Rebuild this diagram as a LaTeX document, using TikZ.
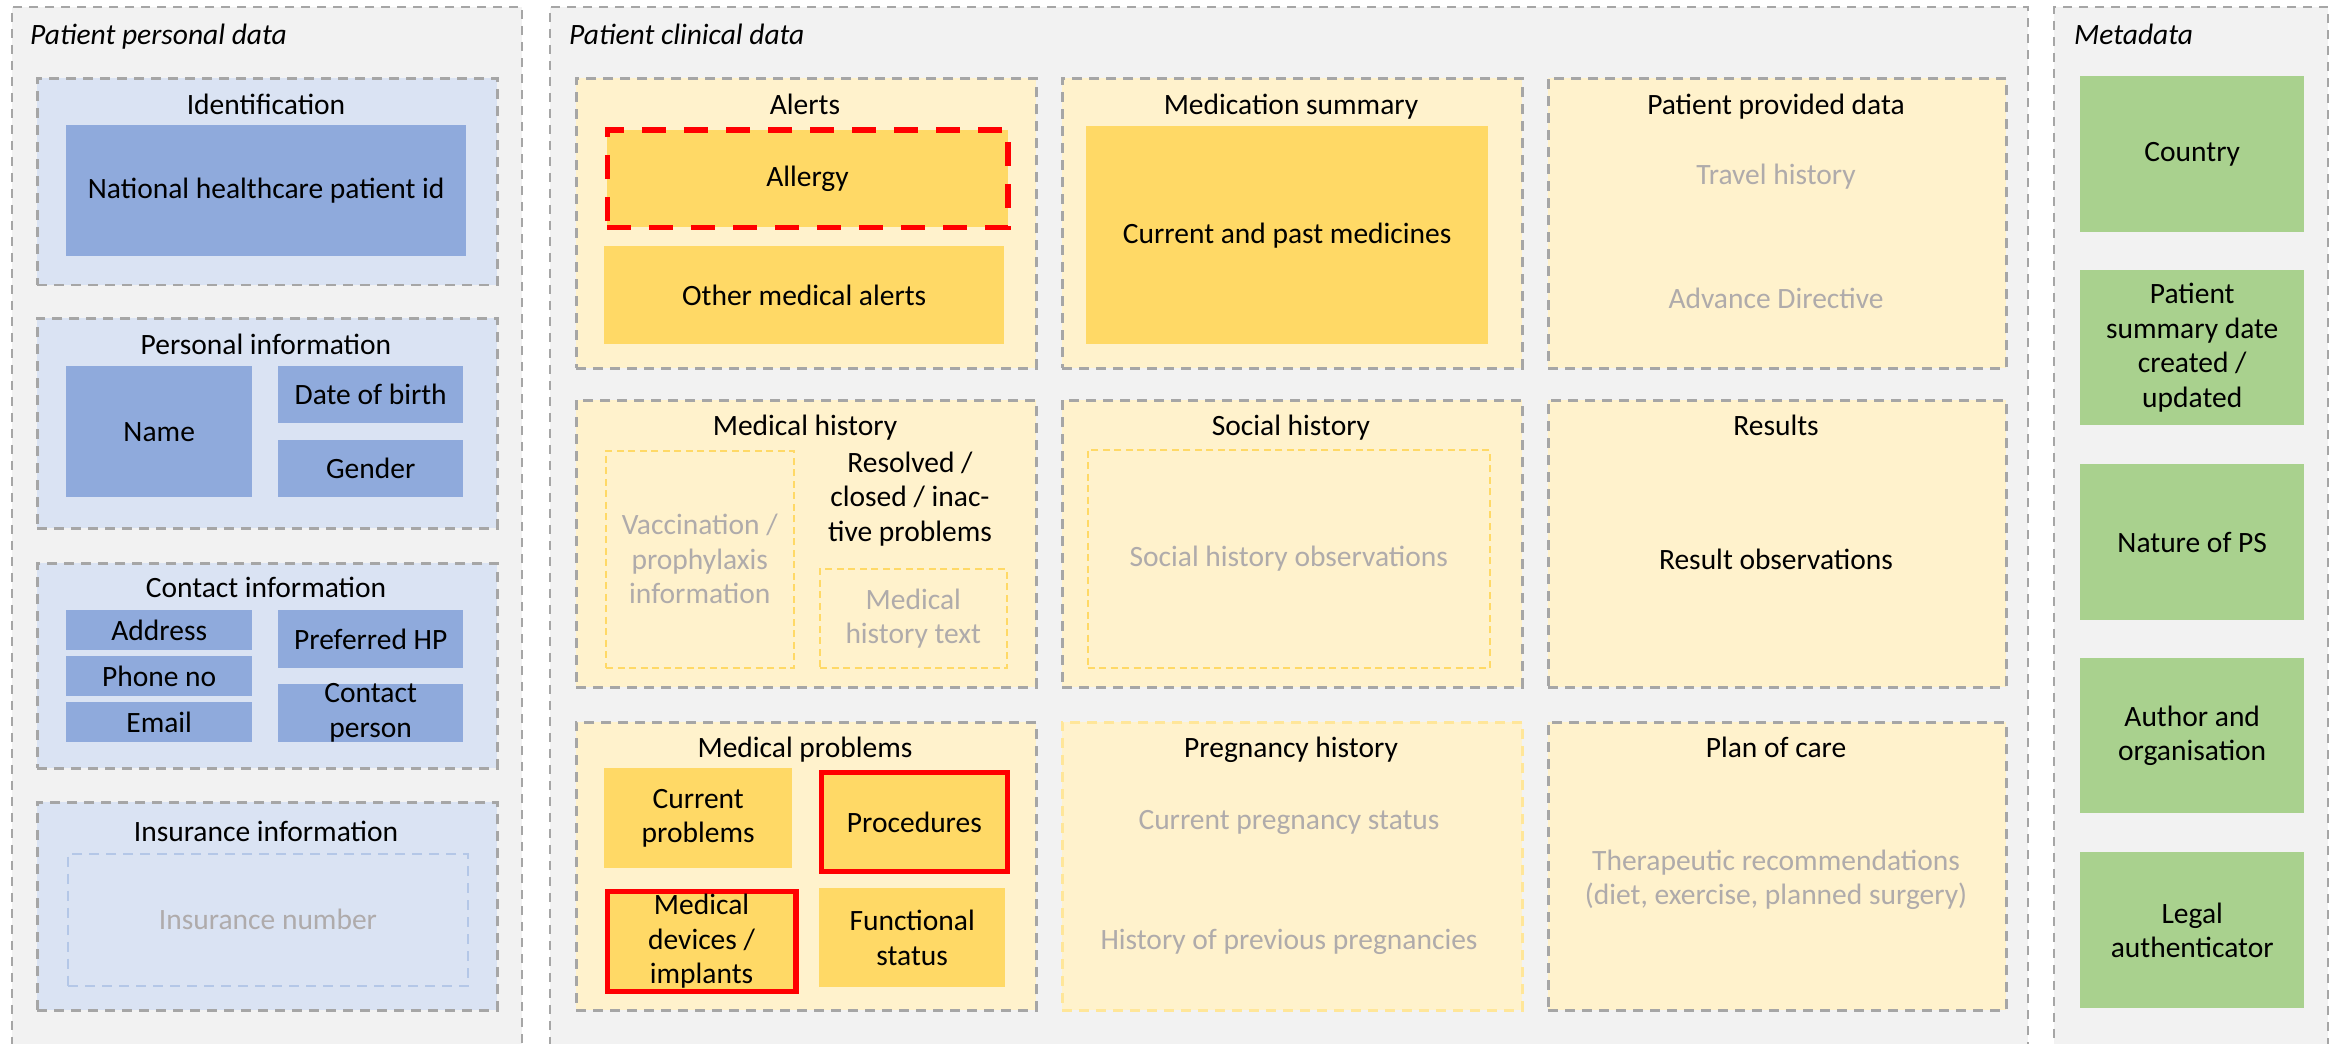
\documentclass[tikz,border=0pt]{standalone}
\usepackage{fontspec}
\setmainfont{Carlito}
\definecolor{panelbg}{HTML}{F2F2F2}
\definecolor{dashgray}{HTML}{A6A6A6}
\definecolor{bluesec}{HTML}{DAE3F3}
\definecolor{blueitem}{HTML}{8FAADC}
\definecolor{bluedash}{HTML}{B4C7E7}
\definecolor{yelsec}{HTML}{FFF2CC}
\definecolor{yelitem}{HTML}{FFD966}
\definecolor{yeldash}{HTML}{FFD966}
\definecolor{yelsecdash}{HTML}{FFE699}
\definecolor{greenitem}{HTML}{A9D18E}
\definecolor{graytext}{HTML}{AFABAB}
\definecolor{alertred}{HTML}{FF0000}
\tikzset{
  panel/.style={fill=panelbg, draw=dashgray, line width=1.6pt, dash pattern=on 9pt off 7pt},
  bsec/.style={fill=bluesec, draw=dashgray, line width=2.6pt, dash pattern=on 10pt off 7pt},
  ysec/.style={fill=yelsec, draw=dashgray, line width=2.6pt, dash pattern=on 10pt off 7pt},
  ysecopt/.style={fill=yelsec, draw=yelsecdash, line width=2.6pt, dash pattern=on 10pt off 7pt},
  bitem/.style={fill=blueitem},
  yitem/.style={fill=yelitem},
  gitem/.style={fill=greenitem},
  boptbox/.style={draw=bluedash, line width=2pt, dash pattern=on 10pt off 7pt},
  yoptbox/.style={draw=yeldash, line width=2pt, dash pattern=on 7pt off 4.5pt},
  redsolid/.style={fill=yelitem, draw=alertred, line width=5.3pt},
  reddash/.style={fill=yelitem, draw=alertred, line width=5.5pt, dash pattern=on 24pt off 18pt},
  txt/.style={inner sep=0pt, font=\fontsize{29.5}{34.5}\selectfont, align=center, text=black},
  gtxt/.style={txt, text=graytext},
  ptitle/.style={inner sep=0pt, anchor=base west, font=\fontsize{29.5}{34.5}\selectfont\itshape},
  stitle/.style={inner sep=0pt, anchor=base, font=\fontsize{29.5}{34.5}\selectfont},
}
% box from (x1,y1) to (x2,y2) with centred text
\newcommand\bx[7]{%
  \node[#1, anchor=north west, inner sep=0pt, minimum width={#5-#3}, minimum height={#6-#4}] (#2) at (#3,#4) {};
  \node[txt] (#2-t) at (#2.center) {#7};}
\newcommand\gbx[7]{%
  \node[#1, anchor=north west, inner sep=0pt, minimum width={#5-#3}, minimum height={#6-#4}] (#2) at (#3,#4) {};
  \node[gtxt] (#2-t) at (#2.center) {#7};}
\newcommand\secbox[6]{%
  \node[#1, anchor=north west, inner sep=0pt, minimum width={#5-#3}, minimum height={#6-#4}] (#2) at (#3,#4) {};}
\begin{document}
\begin{tikzpicture}[x=1pt, y=-1pt]
\useasboundingbox (0,0) rectangle (2343,1044);
\clip (0,0) rectangle (2343,1044);
% panels
\secbox{panel}{p1}{11}{6}{521}{1060}
\secbox{panel}{p2}{549}{6}{2027}{1060}
\secbox{panel}{p3}{2053}{6}{2327}{1060}
\node[ptitle] (p1t) at (30,44) {Patient personal data};
\node[ptitle] (p2t) at (569,44) {Patient clinical data};
\node[ptitle] (p3t) at (2074,44) {Metadata};
% ---- personal data
\secbox{bsec}{ident}{36}{77}{496}{283.5}
\node[stitle] (identt) at (266,114) {Identification};
\bx{bitem}{natid}{66}{125}{466}{256}{National healthcare patient id}
\secbox{bsec}{pers}{36}{317}{496}{527}
\node[stitle] (perst) at (266,354) {Personal information};
\bx{bitem}{name}{66}{366}{252}{497}{Name}
\bx{bitem}{dob}{278}{366}{463}{423}{Date of birth}
\bx{bitem}{gender}{278}{440}{463}{497}{Gender}
\secbox{bsec}{cont}{36}{562}{496}{767}
\node[stitle] (contt) at (266,597.5) {Contact information};
\bx{bitem}{addr}{66}{610}{252}{650}{Address}
\bx{bitem}{phone}{66}{656}{252}{696}{Phone no}
\bx{bitem}{email}{66}{702}{252}{741.6}{Email}
\bx{bitem}{prefhp}{278}{610}{463}{668}{Preferred HP}
\bx{bitem}{cperson}{278}{684}{463}{741.6}{Contact\\person}
\secbox{bsec}{ins}{36}{801}{496}{1009}
\node[stitle] (inst) at (266,841) {Insurance information};
\gbx{boptbox}{insnum}{67}{852.5}{467}{984.5}{Insurance number}
% ---- clinical data
\secbox{ysec}{alerts}{575}{77}{1035}{367}
\node[stitle] (alertst) at (805,114) {Alerts};
\bx{reddash}{allergy}{604.5}{127}{1005}{224.5}{Allergy}
\bx{yitem}{othal}{604}{246}{1004}{344}{Other medical alerts}
\secbox{ysec}{medsum}{1061}{77}{1521}{367}
\node[stitle] (medsumt) at (1291,114) {Medication summary};
\bx{yitem}{curmed}{1086}{126}{1488}{344}{Current and past medicines}
\secbox{ysec}{ppd}{1547}{77}{2005}{367}
\node[stitle] (ppdt) at (1776,114) {Patient provided data};
\node[gtxt] (travel) at (1776,177) {Travel history};
\node[gtxt] (advdir) at (1776,298) {Advance Directive};
\secbox{ysec}{medhist}{575}{399}{1035}{686}
\node[stitle] (medhistt) at (805,435) {Medical history};
\gbx{yoptbox}{vacc}{605}{449.5}{792.6}{667}{Vaccination /\\prophylaxis\\information}
\node[txt] (resolved) at (910,499) {Resolved /\\closed / inac-\\tive problems};
\gbx{yoptbox}{mhtext}{819}{568}{1005.6}{667}{Medical\\history text}
\secbox{ysec}{social}{1061}{399}{1521}{686}
\node[stitle] (socialt) at (1291,435) {Social history};
\gbx{yoptbox}{socobs}{1086.6}{449}{1489}{667}{Social history observations}
\secbox{ysec}{results}{1547}{399}{2005}{686}
\node[stitle] (resultst) at (1776,435) {Results};
\node[txt] (resobs) at (1776,559) {Result observations};
\secbox{ysec}{medprob}{575}{721}{1035}{1009}
\node[stitle] (medprobt) at (805,757) {Medical problems};
\bx{yitem}{curprob}{604}{768}{792}{868}{Current\\problems}
\bx{redsolid}{proc}{818.5}{769.5}{1005}{869}{Procedures}
\bx{redsolid}{meddev}{604.5}{888.5}{793.3}{989}{Medical\\devices /\\implants}
\bx{yitem}{func}{819}{888}{1005}{987}{Functional\\status}
\secbox{ysecopt}{preg}{1061}{721}{1521}{1009}
\node[stitle] (pregt) at (1291,757) {Pregnancy history};
\node[gtxt] (curpreg) at (1289,822) {Current pregnancy status};
\node[gtxt] (prevpreg) at (1289,942) {History of previous pregnancies};
\secbox{ysec}{plan}{1547}{721}{2005}{1009}
\node[stitle] (plant) at (1776,757) {Plan of care};
\node[gtxt] (therap) at (1776,880) {Therapeutic recommendations\\(diet, exercise, planned surgery)};
% ---- metadata
\bx{gitem}{country}{2080}{76}{2304}{232}{Country}
\bx{gitem}{psdate}{2080}{270}{2304}{425}{Patient\\summary date\\created /\\updated}
\bx{gitem}{nature}{2080}{464}{2304}{620}{Nature of PS}
\bx{gitem}{author}{2080}{658}{2304}{813}{Author and\\organisation}
\bx{gitem}{legal}{2080}{852}{2304}{1008}{Legal\\authenticator}
\end{tikzpicture}
\end{document}
